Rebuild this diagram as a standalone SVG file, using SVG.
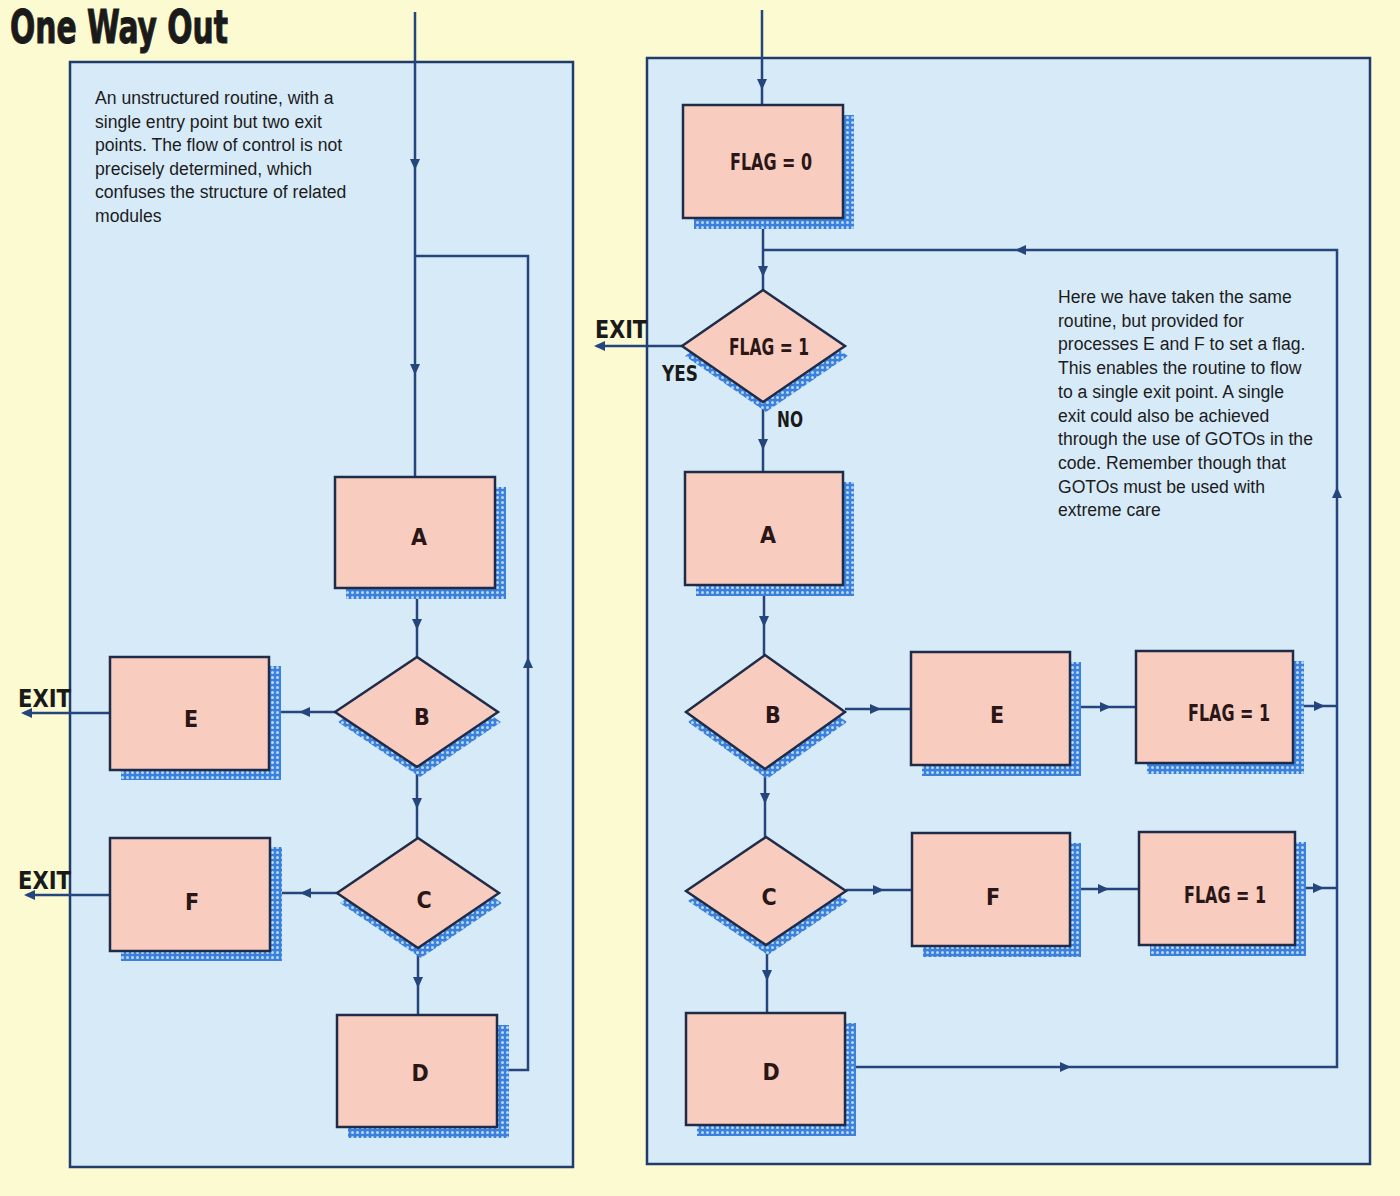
<svg xmlns="http://www.w3.org/2000/svg" xmlns:xlink="http://www.w3.org/1999/xlink" width="1400" height="1196" viewBox="0 0 1400 1196">
<style>
.panel{fill:#d7eaf8;stroke:#1f3c6c;stroke-width:2.5}
.box{fill:#f8ccbe;stroke:#1e2c4a;stroke-width:2.5}
.shadow{fill:url(#mesh)}
.lbl{font-family:"Liberation Sans Narrow","DejaVu Sans Condensed","Liberation Sans",sans-serif;font-weight:bold;font-size:23px;fill:#2a1616;text-anchor:middle}
.tag{font-family:"Liberation Sans Narrow","DejaVu Sans Condensed","Liberation Sans",sans-serif;font-weight:bold;fill:#1a1a1a}
.body{font-family:"Liberation Sans",Arial,sans-serif;font-size:17.6px;fill:#1c1c1c}
.conn{fill:none;stroke:#24467c;stroke-width:2.5}
.ah{fill:#24467c}
</style>
<defs>
<pattern id="mesh" width="5" height="5" patternUnits="userSpaceOnUse">
<rect width="5" height="5" fill="#3a80dc"/>
<circle cx="2.5" cy="2.5" r="1.5" fill="#b9d8f6"/>
</pattern>
<path id="ah" d="M5,0 L-6,-5 L-6,5 Z"/>
</defs>
<rect width="1400" height="1196" fill="#fcfad0"/>
<text x="10" y="43" class="tag" font-size="46" textLength="218" lengthAdjust="spacingAndGlyphs" stroke="#1a1a1a" stroke-width="1">One Way Out</text>
<rect class="panel" x="70" y="62" width="503" height="1105"/>
<rect class="panel" x="647" y="58" width="723" height="1106"/>
<g id="text-left" class="body">
<text x="95" y="104">An unstructured routine, with a</text>
<text x="95" y="127.5">single entry point but two exit</text>
<text x="95" y="151">points. The flow of control is not</text>
<text x="95" y="174.5">precisely determined, which</text>
<text x="95" y="198">confuses the structure of related</text>
<text x="95" y="221.5">modules</text>
</g>
<g id="text-right" class="body">
<text x="1058" y="303">Here we have taken the same</text>
<text x="1058" y="326.7">routine, but provided for</text>
<text x="1058" y="350.4">processes E and F to set a flag.</text>
<text x="1058" y="374">This enables the routine to flow</text>
<text x="1058" y="397.8">to a single exit point. A single</text>
<text x="1058" y="421.5">exit could also be achieved</text>
<text x="1058" y="445.2">through the use of GOTOs in the</text>
<text x="1058" y="469">code. Remember though that</text>
<text x="1058" y="492.6">GOTOs must be used with</text>
<text x="1058" y="516.3">extreme care</text>
</g>
<g id="connectors">
<path class="conn" d="M415,12 V477"/>
<path class="conn" d="M497,1070 H528 V256 H415"/>
<path class="conn" d="M417,588 V657"/>
<path class="conn" d="M335,712 H270"/>
<path class="conn" d="M110,713 H24"/>
<path class="conn" d="M417,767 V838"/>
<path class="conn" d="M337,893 H270"/>
<path class="conn" d="M110,895 H27"/>
<path class="conn" d="M418,948 V1015"/>
<path class="conn" d="M762,10 V105"/>
<path class="conn" d="M763,218 V290"/>
<path class="conn" d="M845,1067 H1337 V250 H763"/>
<path class="conn" d="M682,346 H597"/>
<path class="conn" d="M763,402 V472"/>
<path class="conn" d="M764,585 V655"/>
<path class="conn" d="M845,709 H911"/>
<path class="conn" d="M1070,707 H1136"/>
<path class="conn" d="M1293,706 H1337"/>
<path class="conn" d="M765,769 V837"/>
<path class="conn" d="M846,890 H912"/>
<path class="conn" d="M1070,889 H1139"/>
<path class="conn" d="M1295,888 H1337"/>
<path class="conn" d="M767,945 V1013"/>
<g class="ah">
<use xlink:href="#ah" transform="translate(415,165) rotate(90)"/>
<use xlink:href="#ah" transform="translate(415,370) rotate(90)"/>
<use xlink:href="#ah" transform="translate(528,662) rotate(-90)"/>
<use xlink:href="#ah" transform="translate(417,625) rotate(90)"/>
<use xlink:href="#ah" transform="translate(304,712) rotate(180)"/>
<use xlink:href="#ah" transform="translate(26,713) rotate(180)"/>
<use xlink:href="#ah" transform="translate(417,804) rotate(90)"/>
<use xlink:href="#ah" transform="translate(305,893) rotate(180)"/>
<use xlink:href="#ah" transform="translate(29,895) rotate(180)"/>
<use xlink:href="#ah" transform="translate(418,983) rotate(90)"/>
<use xlink:href="#ah" transform="translate(762,85) rotate(90)"/>
<use xlink:href="#ah" transform="translate(763,272) rotate(90)"/>
<use xlink:href="#ah" transform="translate(1020,250) rotate(180)"/>
<use xlink:href="#ah" transform="translate(1337,492) rotate(-90)"/>
<use xlink:href="#ah" transform="translate(599,346) rotate(180)"/>
<use xlink:href="#ah" transform="translate(763,445) rotate(90)"/>
<use xlink:href="#ah" transform="translate(764,622) rotate(90)"/>
<use xlink:href="#ah" transform="translate(876,709)"/>
<use xlink:href="#ah" transform="translate(1106,707)"/>
<use xlink:href="#ah" transform="translate(1320,706)"/>
<use xlink:href="#ah" transform="translate(765,799) rotate(90)"/>
<use xlink:href="#ah" transform="translate(879,890)"/>
<use xlink:href="#ah" transform="translate(1104,889)"/>
<use xlink:href="#ah" transform="translate(1319,888)"/>
<use xlink:href="#ah" transform="translate(767,976) rotate(90)"/>
<use xlink:href="#ah" transform="translate(1066,1067)"/>
</g>
</g>
<g id="labels">
<text class="tag" x="18" y="707" font-size="25" textLength="53" lengthAdjust="spacingAndGlyphs">EXIT</text>
<text class="tag" x="18" y="889" font-size="25" textLength="53" lengthAdjust="spacingAndGlyphs">EXIT</text>
<text class="tag" x="595" y="338" font-size="25" textLength="52" lengthAdjust="spacingAndGlyphs">EXIT</text>
<text class="tag" x="662" y="381" font-size="22" textLength="36" lengthAdjust="spacingAndGlyphs">YES</text>
<text class="tag" x="777" y="427" font-size="22" textLength="26" lengthAdjust="spacingAndGlyphs">NO</text>
</g>
<g id="L_A"><rect class="shadow" x="346" y="487" width="160" height="112"/><rect class="box" x="335" y="477" width="160" height="111"/><text class="lbl" x="419" y="545">A</text></g>
<g id="L_B"><polygon class="shadow" points="338,722 420,667 501,722 420,777"/><polygon class="box" points="335,712 417,657 498,712 417,767"/><text class="lbl" x="422" y="725">B</text></g>
<g id="L_C"><polygon class="shadow" points="340,903 421,848 502,903 421,958"/><polygon class="box" points="337,893 418,838 499,893 418,948"/><text class="lbl" x="424" y="908">C</text></g>
<g id="L_D"><rect class="shadow" x="348" y="1025" width="161" height="113"/><rect class="box" x="337" y="1015" width="160" height="112"/><text class="lbl" x="420" y="1081">D</text></g>
<g id="L_E"><rect class="shadow" x="121" y="666" width="160" height="114"/><rect class="box" x="110" y="657" width="159" height="113"/><text class="lbl" x="191" y="727">E</text></g>
<g id="L_F"><rect class="shadow" x="121" y="847" width="161" height="114"/><rect class="box" x="110" y="838" width="160" height="113"/><text class="lbl" x="192" y="910">F</text></g>
<g id="R_F0"><rect class="shadow" x="694" y="115" width="160" height="114"/><rect class="box" x="683" y="105" width="160" height="113"/><text class="lbl" x="771" y="170" textLength="82" lengthAdjust="spacingAndGlyphs">FLAG = 0</text></g>
<g id="R_FLAG1"><polygon class="shadow" points="685,356 766,300 848,356 766,412"/><polygon class="box" points="682,346 763,290 845,346 763,402"/><text class="lbl" x="769" y="355" textLength="80" lengthAdjust="spacingAndGlyphs">FLAG = 1</text></g>
<g id="R_A"><rect class="shadow" x="696" y="482" width="158" height="114"/><rect class="box" x="685" y="472" width="158" height="113"/><text class="lbl" x="768" y="543">A</text></g>
<g id="R_B"><polygon class="shadow" points="688,722 767,665 847,722 767,779"/><polygon class="box" points="686,712 765,655 845,712 765,769"/><text class="lbl" x="773" y="723">B</text></g>
<g id="R_C"><polygon class="shadow" points="688,901 768,847 848,901 768,955"/><polygon class="box" points="686,891 766,837 846,891 766,945"/><text class="lbl" x="769" y="905">C</text></g>
<g id="R_D"><rect class="shadow" x="697" y="1023" width="159" height="113"/><rect class="box" x="686" y="1013" width="159" height="112"/><text class="lbl" x="771" y="1080">D</text></g>
<g id="R_E"><rect class="shadow" x="922" y="662" width="159" height="114"/><rect class="box" x="911" y="652" width="159" height="113"/><text class="lbl" x="997" y="723">E</text></g>
<g id="R_FLAG1a"><rect class="shadow" x="1147" y="661" width="157" height="113"/><rect class="box" x="1136" y="651" width="157" height="112"/><text class="lbl" x="1229" y="721" textLength="82" lengthAdjust="spacingAndGlyphs">FLAG = 1</text></g>
<g id="R_F"><rect class="shadow" x="923" y="843" width="158" height="114"/><rect class="box" x="912" y="833" width="158" height="113"/><text class="lbl" x="993" y="905">F</text></g>
<g id="R_FLAG1b"><rect class="shadow" x="1150" y="842" width="156" height="114"/><rect class="box" x="1139" y="832" width="156" height="113"/><text class="lbl" x="1225" y="903" textLength="82" lengthAdjust="spacingAndGlyphs">FLAG = 1</text></g>
</svg>
